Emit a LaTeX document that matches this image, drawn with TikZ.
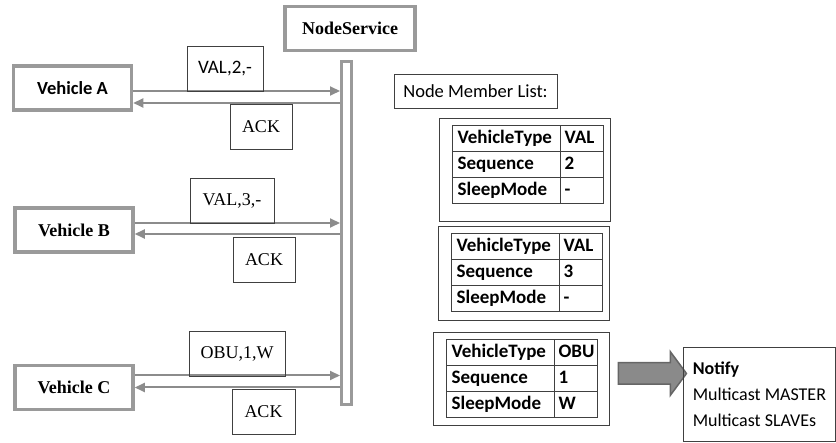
\documentclass[tikz,border=0pt]{standalone}
\usepackage{fontspec}
\setmainfont{Liberation Serif}
\newfontfamily\calfont{Carlito}
\usetikzlibrary{arrows.meta, positioning, matrix, shapes.arrows}

\definecolor{edgegray}{HTML}{9A9A9A}
\definecolor{arrowgray}{HTML}{8C8C8C}
\definecolor{linegray}{HTML}{404040}
\definecolor{fatgray}{HTML}{8A8A8A}
\definecolor{fatedge}{HTML}{666666}

\begin{document}
\begin{tikzpicture}[
    x=1pt, y=-1pt,
    vehicle/.style={
        draw=edgegray, line width=3.5pt,
        minimum width=118pt, minimum height=44pt,
        font=\fontsize{18}{20}\selectfont\bfseries
    },
    msgbox/.style={
        draw=linegray, line width=0.8pt,
        minimum height=45pt,
        font=\fontsize{18}{20}\selectfont
    },
    bus/.style={
        draw=edgegray, line width=3pt, fill=white,
        minimum width=10pt, minimum height=343pt, inner sep=0pt
    },
    msg/.style={-{Triangle[length=10pt,width=9pt]}, draw=arrowgray, line width=2pt},
    frame/.style={draw=linegray, line width=0.8pt, inner sep=0pt},
    memtab/.style={
        matrix of nodes, inner sep=0pt,
        column sep=-0.8pt, row sep=-0.8pt,
        nodes={draw=linegray, line width=0.8pt, align=left,
               minimum height=26pt, inner xsep=5pt, inner ysep=0pt,
               text height=13pt, text depth=4pt,
               font=\calfont\fontsize{19}{21}\selectfont\bfseries},
        column 1/.style={nodes={text width=98pt}},
        column 2/.style={nodes={text width=35pt, inner xsep=4pt}}
    },
    bigarrow/.style={
        single arrow, draw=fatedge, line width=1.5pt, fill=fatgray,
        minimum height=68pt, inner sep=10pt,
        single arrow head extend=11pt, single arrow tip angle=107
    },
]
\useasboundingbox (0,0) rectangle (836,443);

% node service and its bus
\node[vehicle, minimum width=130pt] (service) at (350,28.5) {NodeService};
\node[bus] (bus) at (346.5,233) {};

% vehicles
\node[vehicle, font=\calfont\fontsize{18.5}{20}\selectfont\bfseries] (vehA) at (72.5,88) {Vehicle A};
\node[vehicle] (vehB) at (74,230) {Vehicle B};
\node[vehicle] (vehC) at (74,387.5) {Vehicle C};

% messages
\draw[msg] ([yshift=-3pt]vehA.east) -- ([yshift=-3pt]vehA.east -| bus.west);
\draw[msg] ([yshift=-15pt]vehA.east -| bus.west) -- ([yshift=-15pt]vehA.east);
\draw[msg] ([yshift=7pt]vehB.east) -- ([yshift=7pt]vehB.east -| bus.west);
\draw[msg] ([yshift=-4pt]vehB.east -| bus.west) -- ([yshift=-4pt]vehB.east);
\draw[msg] ([yshift=12pt]vehC.east) -- ([yshift=12pt]vehC.east -| bus.west);
\draw[msg] ([yshift=0pt]vehC.east -| bus.west) -- ([yshift=0pt]vehC.east);

\node[msgbox, minimum width=76pt, font=\calfont\fontsize{19}{21}\selectfont] (reqA) at (225,68.5) {VAL,2,-};
\node[msgbox, minimum width=62pt] (ackA) at (261,126.5) {ACK};
\node[msgbox, minimum width=84pt] (reqB) at (232,200.5) {VAL,3,-};
\node[msgbox, minimum width=62pt] (ackB) at (264,259.5) {ACK};
\node[msgbox, minimum width=96pt] (reqC) at (237,353.5) {OBU,1,W};
\node[msgbox, minimum width=63pt] (ackC) at (263.5,412) {ACK};

% member list
\node[msgbox, minimum width=163pt, minimum height=34pt, font=\calfont\fontsize{18.5}{20}\selectfont] (members) at (475.5,91) {Node Member List:};

\node[frame, minimum width=171pt, minimum height=103pt] (frameA) at (524.5,169.5) {};
\node[frame, minimum width=171pt, minimum height=94pt] (frameB) at (523.5,273) {};
\node[frame, minimum width=176pt, minimum height=93pt] (frameC) at (521,378.5) {};

\matrix[memtab, anchor=north west] (tabA) at (452,125) {
    VehicleType & VAL \\
    Sequence & 2 \\
    SleepMode & - \\
};
\matrix[memtab, anchor=north west] (tabB) at (451,233) {
    VehicleType & VAL \\
    Sequence & 3 \\
    SleepMode & - \\
};
\matrix[memtab, anchor=north west] (tabC) at (446,339) {
    VehicleType & OBU \\
    Sequence & 1 \\
    SleepMode & W \\
};

% notify
\node[bigarrow] (push) at (648.5,373.5) {};
\node[frame, anchor=north west, minimum width=152pt, minimum height=94pt,
      align=left, font=\calfont\fontsize{18}{26}\selectfont] (notify) at (683,347)
      {\textbf{Notify}\\Multicast MASTER\\Multicast SLAVEs};

\end{tikzpicture}
\end{document}
